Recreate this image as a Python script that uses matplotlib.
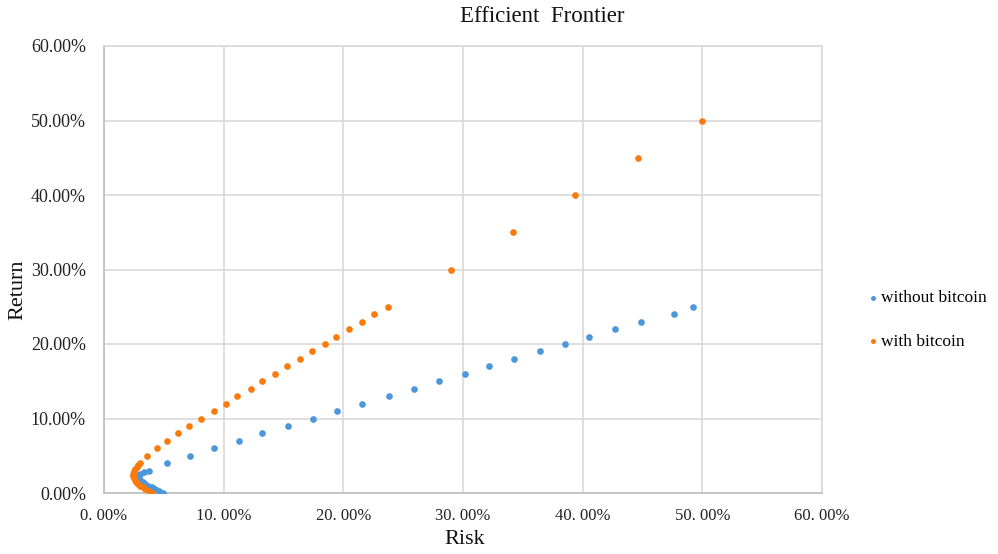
import matplotlib
matplotlib.use('Agg')
import matplotlib.pyplot as plt
from matplotlib.ticker import FuncFormatter, MultipleLocator

plt.rcParams['font.family'] = ['Liberation Serif', 'DejaVu Serif']

# Without bitcoin: risk (%) and return (%)
no_btc_risk = [4.95, 4.62, 4.30, 3.98, 3.70, 3.45, 3.22, 3.05, 2.93, 2.87, 2.88, 3.05, 3.35,
               3.75, 5.3, 7.2, 9.2, 11.3, 13.2, 15.4, 17.5, 19.5, 21.6, 23.8, 25.9,
               28.0, 30.2, 32.2, 34.3, 36.4, 38.5, 40.5, 42.7, 44.9, 47.6, 49.2]
no_btc_ret = [0.0, 0.25, 0.5, 0.75, 1.0, 1.25, 1.5, 1.75, 2.0, 2.2, 2.4, 2.6, 2.8,
              3, 4, 5, 6, 7, 8, 9, 10, 11, 12, 13, 14,
              15, 16, 17, 18, 19, 20, 21, 22, 23, 24, 25]

# With bitcoin
btc_risk = [4.00, 3.72, 3.46, 3.22, 3.02, 2.84, 2.70, 2.58, 2.50, 2.46, 2.45, 2.48, 2.54,
            2.62, 2.72, 2.84, 2.97,
            3.6, 4.4, 5.3, 6.2, 7.1, 8.1, 9.2, 10.2, 11.1, 12.3, 13.2, 14.3, 15.3,
            16.4, 17.4, 18.5, 19.4, 20.5, 21.6, 22.6, 23.7,
            29.0, 34.2, 39.4, 44.6, 50.0]
btc_ret = [0.0, 0.25, 0.5, 0.75, 1.0, 1.25, 1.5, 1.75, 2.0, 2.25, 2.5, 2.75, 3.0,
           3.25, 3.5, 3.75, 4.0,
           5, 6, 7, 8, 9, 10, 11, 12, 13, 14, 15, 16, 17,
           18, 19, 20, 21, 22, 23, 24, 25,
           30, 35, 40, 45, 50]

blue = '#4C97DA'
orange = '#F97B0C'
grid_col = '#D9D9D9'

fig = plt.figure(figsize=(9.98, 5.54), dpi=100)
ax = fig.add_axes([104 / 998, 1 - 493 / 554, (822 - 104) / 998, (493 - 46) / 554])

ax.scatter(no_btc_risk, no_btc_ret, s=23, color=blue, linewidths=0,
           label='without bitcoin', zorder=3)
ax.scatter(btc_risk, btc_ret, s=23, color=orange, linewidths=0,
           label='with bitcoin', zorder=3)

ax.set_xlim(0, 60)
ax.set_ylim(0, 60)
ax.xaxis.set_major_locator(MultipleLocator(10))
ax.yaxis.set_major_locator(MultipleLocator(10))
ax.xaxis.set_major_formatter(FuncFormatter(lambda v, p: '%d. 00%%' % v if v > 0 else '0. 00%'))
ax.yaxis.set_major_formatter(FuncFormatter(lambda v, p: '%.2f%%' % v))

ax.grid(True, color=grid_col, linewidth=1.2)
ax.set_axisbelow(True)
for sp in ax.spines.values():
    sp.set_color(grid_col)
    sp.set_linewidth(1.2)
ax.spines['left'].set_color('#BFBFBF')
ax.spines['bottom'].set_color('#BFBFBF')
ax.tick_params(axis='y', length=0, labelsize=13, colors='#222222', pad=13)
ax.tick_params(axis='x', length=0, labelsize=12, colors='#222222', pad=11)

ax.set_xlabel('Risk', fontsize=16, color='#111111')
ax.set_ylabel('Return', fontsize=16, color='#111111')
ax.xaxis.label.set_va('center')
ax.yaxis.label.set_va('center')
ax.xaxis.set_label_coords((465 - 104) / (822 - 104), -(540 - 493) / (493 - 46))
ax.yaxis.set_label_coords(-(104 - 18) / (822 - 104), (493 - 290) / (493 - 46))

fig.text(542 / 998, 1 - 17 / 554, 'Efficient  Frontier', ha='center', va='center',
         fontsize=16.5, color='#111111')

ax.legend(loc='center left', bbox_to_anchor=(866 / 998, 1 - 320 / 554),
          bbox_transform=fig.transFigure, frameon=False, fontsize=12.5,
          borderpad=0, borderaxespad=0, labelspacing=1.6, handletextpad=0.05,
          handlelength=0.8, markerscale=0.75)

fig.savefig('out.png', dpi=100)
